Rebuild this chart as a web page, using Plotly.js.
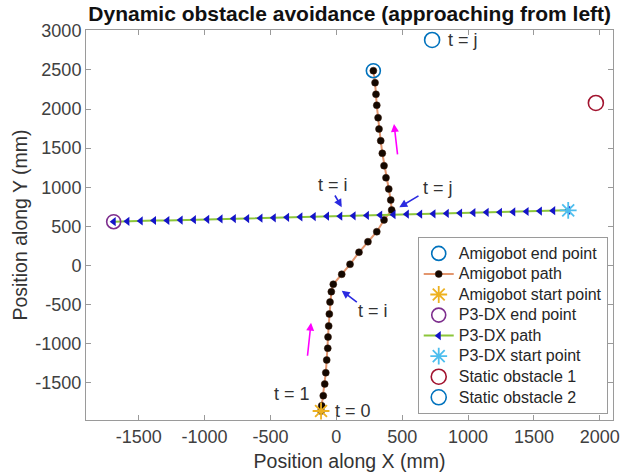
<!DOCTYPE html>
<html>
<head>
<meta charset="utf-8">
<script src="https://cdn.plot.ly/plotly-3.0.1.min.js"></script>
<style>html,body{margin:0;padding:0;background:#fff;}#chart{width:629px;height:475px;}</style>
</head>
<body>
<div id="chart"></div>
<script>
// Amigobot path (mm), from start (bottom) to end (top)
const amigoX = [-116, -111, -99, -88, -80, -73, -65, -63, -58, -53, -48, -38, -23, 41, 104, 172, 240, 307, 362, 420, 413, 398, 377, 362, 349, 337, 324, 317, 307, 301, 294, 281];
const amigoY = [-1860, -1792, -1664, -1515, -1370, -1208, -1058, -914, -773, -620, -467, -335, -240, -112, 15, 169, 304, 432, 582, 709, 837, 978, 1122, 1276, 1434, 1595, 1745, 1889, 2048, 2188, 2337, 2490];
const amigoStart = [-116, -1860];
const amigoEnd = [281, 2490];

// P3-DX path (mm), from start (right) to end (left)
const p3X = [1760, 1646, 1545, 1444, 1343, 1242, 1141, 1040, 939, 838, 737, 636, 535, 434, 333, 232, 131, 30, -71, -172, -273, -374, -475, -576, -677, -778, -879, -980, -1081, -1182, -1283, -1384, -1485, -1586, -1690];
const p3Y = [705, 700, 695, 690, 685, 680, 680, 675, 670, 665, 660, 655, 655, 650, 645, 640, 635, 630, 630, 625, 620, 615, 610, 605, 600, 600, 595, 590, 585, 580, 575, 575, 570, 565, 560];
const p3Start = [1760, 705];
const p3End = [-1690, 560];

// Static obstacles (mm)
const obstacle1 = [1970, 2077];
const obstacle2 = [727, 2883];

// Axis ticks
const xTicks = [-1500, -1000, -500, 0, 500, 1000, 1500, 2000];
const yTicks = [-1500, -1000, -500, 0, 500, 1000, 1500, 2000, 2500, 3000];

// Annotation labels: [text, x, y]
const labels = [
  ["t = i", -25, 1029],
  ["t = j", 772, 991],
  ["t = i", 279, -582],
  ["t = 1", -336, -1643],
  ["t = 0", 127, -1860]
];
const topLabel = ["t = j", 835, 2883];
// Arrows: [tailX, tailY, headX, headY, color]
const arrows = [
  [-17, 914, 41, 744, "#2a2ae0"],
  [635, 901, 478, 744, "#2a2ae0"],
  [167, -483, 41, -322, "#2a2ae0"],
  [466, 1400, 438, 1809, "#ff00ff"],
  [-220, -1173, -192, -731, "#ff00ff"]
];

const lg = s => '<span style="font-size:16px">' + s + '</span>';

const traces = [
  {name: lg("Amigobot path"), x: amigoX, y: amigoY, mode: "lines+markers", type: "scatter",
   line: {color: "#e3966e", width: 2}, marker: {symbol: "circle", size: 7, color: "#140800", line: {color: "#3a1a0a", width: 0.5}}, legendrank: 2},
  {name: lg("P3-DX path"), x: p3X, y: p3Y, mode: "lines+markers", type: "scatter",
   line: {color: "#8cc63a", width: 2}, marker: {symbol: "triangle-left", size: 8, color: "#1414c8"}, legendrank: 5},
  {name: lg("Amigobot end point"), x: [amigoEnd[0]], y: [amigoEnd[1]], mode: "markers", type: "scatter",
   marker: {symbol: "circle-open", size: 14, color: "#0072BD", line: {width: 1.6}}, legendrank: 1},
  {name: lg("Amigobot start point"), x: [amigoStart[0]], y: [amigoStart[1]], mode: "markers", type: "scatter",
   marker: {symbol: "asterisk-open", size: 14, color: "#EDB120", line: {width: 1.8, color: "#EDB120"}}, legendrank: 3},
  {name: lg("P3-DX end point"), x: [p3End[0]], y: [p3End[1]], mode: "markers", type: "scatter",
   marker: {symbol: "circle-open", size: 14, color: "#7E2F8E", line: {width: 1.6}}, legendrank: 4},
  {name: lg("P3-DX start point"), x: [p3Start[0]], y: [p3Start[1]], mode: "markers", type: "scatter",
   marker: {symbol: "asterisk-open", size: 14, color: "#4DBEEE", line: {width: 1.8, color: "#4DBEEE"}}, legendrank: 6},
  {name: lg("Static obstacle 1"), x: [obstacle1[0]], y: [obstacle1[1]], mode: "markers", type: "scatter",
   marker: {symbol: "circle-open", size: 15, color: "#A2142F", line: {width: 1.6}}, legendrank: 7},
  {name: lg("Static obstacle 2"), x: [obstacle2[0]], y: [obstacle2[1]], mode: "markers", type: "scatter",
   marker: {symbol: "circle-open", size: 15, color: "#0072BD", line: {width: 1.6}}, legendrank: 8}
];

const annotations = [];
labels.forEach(l => annotations.push({text: l[0], x: l[1], y: l[2], xref: "x", yref: "y", showarrow: false,
  font: {family: "Liberation Sans, Arial, sans-serif", size: 18, color: "#333"}}));
annotations.push({text: topLabel[0], x: topLabel[1], y: topLabel[2], xref: "x", yref: "y", xanchor: "left", showarrow: false,
  font: {family: "Liberation Sans, Arial, sans-serif", size: 18, color: "#333"}});
arrows.forEach(a => annotations.push({text: "", x: a[2], y: a[3], ax: a[0], ay: a[1], xref: "x", yref: "y", axref: "x", ayref: "y",
  showarrow: true, arrowhead: 2, arrowsize: 1, arrowwidth: 1.6, arrowcolor: a[4]}));

const axisCommon = {showgrid: false, zeroline: false, showline: true, linecolor: "#9a9a9a", linewidth: 1,
  mirror: "ticks", ticks: "inside", ticklen: 5, tickcolor: "#9a9a9a",
  tickfont: {family: "Liberation Sans, Arial, sans-serif", size: 18, color: "#404040"}};

const layout = {
  width: 629, height: 475,
  margin: {l: 86, r: 16, t: 30, b: 55},
  paper_bgcolor: "#fff", plot_bgcolor: "#fff",
  title: {text: "<b>Dynamic obstacle avoidance (approaching from left)</b>", x: 0.556, xanchor: "center", y: 0.972, yanchor: "middle",
    font: {family: "Liberation Sans, Arial, sans-serif", size: 21, color: "#111"}},
  xaxis: Object.assign({}, axisCommon, {range: [-1900, 2100], tickvals: xTicks, ticktext: xTicks.map(String),
    title: {text: "Position along X (mm)", standoff: 8, font: {family: "Liberation Sans, Arial, sans-serif", size: 19.5, color: "#333"}}}),
  yaxis: Object.assign({}, axisCommon, {range: [-1975, 3010], tickvals: yTicks, ticktext: yTicks.map(String),
    title: {text: "Position along Y (mm)", standoff: 2, font: {family: "Liberation Sans, Arial, sans-serif", size: 19.5, color: "#333"}}}),
  showlegend: true,
  legend: {x: 0.99, xanchor: "right", y: 0.015, yanchor: "bottom", bgcolor: "#fff", bordercolor: "#9a9a9a", borderwidth: 1,
    font: {family: "Liberation Sans, Arial, sans-serif", size: 13.5, color: "#262626"}, itemwidth: 30},
  annotations: annotations
};

Plotly.newPlot("chart", traces, layout, {displayModeBar: false, staticPlot: true});
</script>
</body>
</html>
